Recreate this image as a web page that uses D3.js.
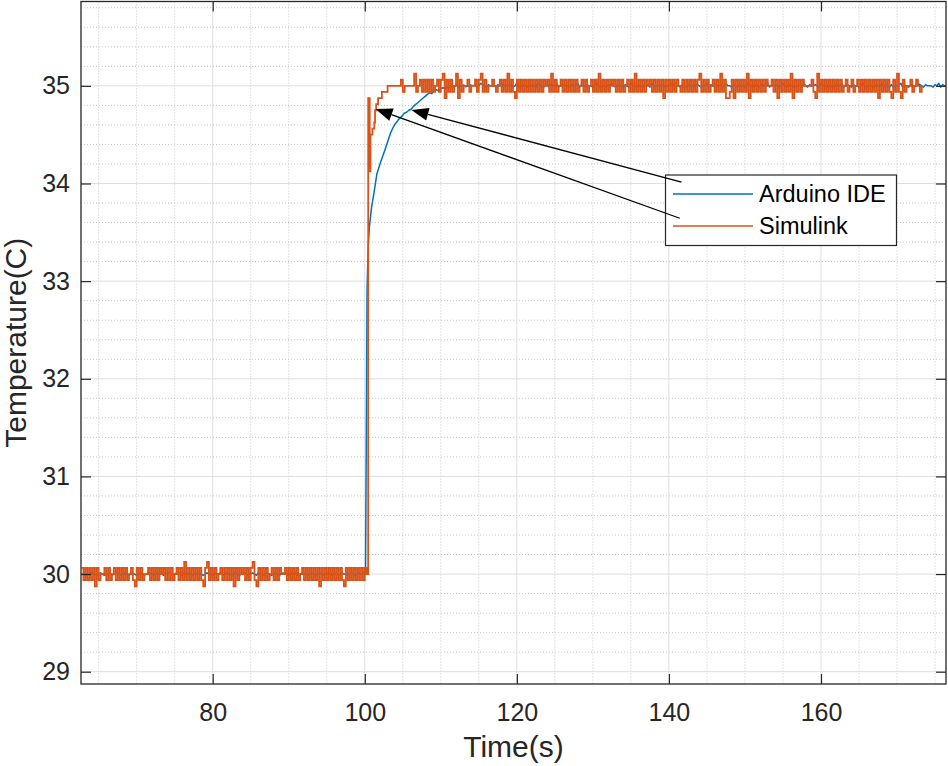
<!DOCTYPE html>
<html><head><meta charset="utf-8">
<script src="https://cdn.jsdelivr.net/npm/d3@7"></script>
<style>
body{margin:0;background:#fff}
text{font-family:"Liberation Sans",Arial,Helvetica,sans-serif}
</style>
</head><body>
<svg id="chart" width="948" height="766"></svg>
<script>
// ---------------- data ----------------
const xTicks = [80, 100, 120, 140, 160];
const yTicks = [29, 30, 31, 32, 33, 34, 35];
const xDomain = [62.68, 176.44];
const yDomain = [28.874, 35.864];
const seriesNames = ["Arduino IDE", "Simulink"];
const seriesColors = ["#0072BD", "#D95319"];
const sampleStep = 0.25;

// Arduino IDE: small jitter around 30 before the step (codes 0..4 -> -2..+2 steps of 0.013)
const arduinoPreStart = 62.75;
const arduinoPre =
  "2231232212321223122321322132212321232213223122321232" +
  "2132231222321232213223213221232122312232132213221" +
  "232123221322312322123212231223213221322123212322" ;
const arduinoStepT = [100.1, 100.2, 100.3, 100.45, 100.6, 100.9, 101.1, 101.6, 102.0, 102.5, 102.8, 103.1, 103.4, 103.7, 104.0, 104.3, 104.6, 104.9, 105.2, 105.5, 105.8, 106.1, 106.4, 106.7, 107.0, 107.3, 107.6, 107.9, 108.2, 108.5, 108.8, 109.1, 109.4, 109.7, 110.0, 110.3, 110.6, 110.9, 111.2, 111.5, 111.8, 112.1, 112.4, 112.7, 113.0, 113.3, 113.6, 113.9];
const arduinoStepV = [30.0, 31.4, 32.9, 33.35, 33.55, 33.76, 33.85, 34.1, 34.2, 34.31, 34.38, 34.45, 34.52, 34.57, 34.61, 34.64, 34.67, 34.69, 34.72, 34.73, 34.75, 34.76, 34.79, 34.81, 34.83, 34.85, 34.87, 34.89, 34.91, 34.93, 34.92, 34.95, 34.96, 34.95, 34.97, 34.98, 34.97, 34.99, 34.98, 35.0, 34.99, 35.01, 34.99, 35.0, 35.01, 34.99, 35.0, 35.01];
const arduinoPostStart = 114.25;
const arduinoPost =
  "23124321322213241322312421322132214321231322412322" +
  "21322413213221342122132421322132142213122231421322" +
  "31223412213213221432122413221323142213213221432132" +
  "21322413223124213221223142132232142213121322412321" +
  "32213421222132241321312234122123124321322213241322";

// Simulink: quantised in 1/16 degree steps ('+' / '-' = one step, 'u' / 'd' = two steps, '0' = on level)
const simulinkPreStart = 62.75;
const simulinkPre =
  "+-+-+-+d+-" + "00+-+-0+-+" + "-+-+-0+-d+" + "-+-00+-+-+" + "-+0+-+-+-0" +
  "+-+-u-+-+-" + "+-+-d+u-+-" + "+-0+-+-+-+" + "d+-+0+-+-+" + "u-d+-+-+-0" +
  "+-+-+00+-+" + "-+-+-0+-+-" + "+-+-+d+-+-" + "+-+-+-+-d+" + "-+-+-+-+-+" + "0";
const simulinkStepT = [100.4, 100.45, 100.6, 100.65, 100.72, 100.75, 101.0, 101.25, 101.35, 101.5, 101.75, 102.2, 102.25, 102.95, 103.0];
const simulinkStepV = [30.0, 34.875, 34.875, 34.125, 34.125, 34.5, 34.5625, 34.625, 34.75, 34.8125, 34.875, 34.875, 34.9375, 34.9375, 35.0];
const simulinkPostStart = 103.25;
const simulinkPost =
  "000000+-00" + "000u-0+-+-" + "+-+-0+-+ud" + "+-+-0ud+-0" + "0+-00+-+u-" +
  "+-00+0-0+-" + "+-u-+-d+-+" + "-+-+-+-+-+" + "-+0+-u-+-0" + "+-+-+-+-+-" +
  "0+-+-0+-+-" + "u-+-+-+0+-" + "+-+-0+-+-u" + "-+-+-+0+-+" + "-+-+d+-+-+" +
  "-+0-+-+-+-" + "+-+u-+-+-0" + "+-+-u-+dd-" + "+d+-+-+-ud" + "+-+-+-+-+0" +
  "0+-+d+-+-+" + "-ud+-+-+00" + "00+-du-+-+" + "-+-+-+-+-0" + "+-0+-0+-+-" +
  "+-+-+-+d+-" + "+-+-d+-u-d" + "+-00+-0+0-" + "0";

// annotation arrows (data coordinates): tail near legend, tip on the curves
const arrowTailX = [141.65, 141.43];
const arrowTailY = [34.013, 33.644];
const arrowTipX = [106.14, 101.41];
const arrowTipY = [34.754, 34.764];

// ---------------- build series ----------------
const jitterCode = c => (+c - 2) * 0.013;
const quantCode = c => ({"0": 0, "+": 1, "-": -1, "u": 2, "d": -2}[c]) * 0.0625;
function decode(str, t0, base, f) {
  return Array.from(str).map((c, i) => [t0 + i * sampleStep, base + f(c)]);
}
const arduino = decode(arduinoPre, arduinoPreStart, 30, jitterCode)
  .concat(arduinoStepT.map((t, i) => [t, arduinoStepV[i]]))
  .concat(decode(arduinoPost, arduinoPostStart, 35, jitterCode));
const simulink = decode(simulinkPre, simulinkPreStart, 30, quantCode)
  .concat(simulinkStepT.map((t, i) => [t, simulinkStepV[i]]))
  .concat(decode(simulinkPost, simulinkPostStart, 35, quantCode));

// ---------------- drawing ----------------
const L = 81, R = 946, T = 1.5, B = 684;
const svg = d3.select("#chart");
const x = d3.scaleLinear().domain(xDomain).range([L, R]);
const y = d3.scaleLinear().domain(yDomain).range([B, T]);
const axisCol = "#262626";

// minor grid
const xMinor = d3.range(65, 177, 5).filter(v => v % 20 !== 0 && v > xDomain[0] && v < xDomain[1]);
const yMinor = d3.range(0, 36).map(i => +(28.8 + i * 0.2).toFixed(1))
  .filter(v => v > yDomain[0] && v < yDomain[1] && Math.abs(v - Math.round(v)) > 1e-6);
const g = svg.append("g");
g.selectAll(".xm").data(xMinor).join("line")
  .attr("x1", d => x(d)).attr("x2", d => x(d)).attr("y1", T).attr("y2", B)
  .attr("stroke", "#c4c4c4").attr("stroke-width", 1).attr("stroke-dasharray", "1,2");
g.selectAll(".ym").data(yMinor).join("line")
  .attr("x1", L).attr("x2", R).attr("y1", d => y(d)).attr("y2", d => y(d))
  .attr("stroke", "#c4c4c4").attr("stroke-width", 1).attr("stroke-dasharray", "1,2");
// major grid
g.selectAll(".xM").data(xTicks).join("line")
  .attr("x1", d => x(d)).attr("x2", d => x(d)).attr("y1", T).attr("y2", B)
  .attr("stroke", "#dedede").attr("stroke-width", 1);
g.selectAll(".yM").data(yTicks).join("line")
  .attr("x1", L).attr("x2", R).attr("y1", d => y(d)).attr("y2", d => y(d))
  .attr("stroke", "#dedede").attr("stroke-width", 1);

// data lines
svg.append("clipPath").attr("id", "clip").append("rect")
  .attr("x", L).attr("y", T).attr("width", R - L).attr("height", B - T);
const dataG = svg.append("g").attr("clip-path", "url(#clip)");
dataG.append("path").datum(arduino)
  .attr("d", d3.line().x(d => x(d[0])).y(d => y(d[1])))
  .attr("fill", "none").attr("stroke", seriesColors[0]).attr("stroke-width", 1.5)
  .attr("stroke-linejoin", "round");
dataG.append("path").datum(simulink)
  .attr("d", d3.line().x(d => x(d[0])).y(d => y(d[1])).curve(d3.curveStepAfter))
  .attr("fill", "none").attr("stroke", seriesColors[1]).attr("stroke-width", 1.8);

// axes
function styleAxis(sel) {
  sel.select(".domain").remove();
  sel.selectAll(".tick line").attr("stroke", axisCol).attr("stroke-width", 1.2);
  sel.selectAll(".tick text").attr("fill", axisCol).style("font-size", "25px")
    .style("font-family", '"Liberation Sans",Arial,Helvetica,sans-serif');
}
const fmt = d3.format("d");
svg.append("g").attr("transform", `translate(0,${B})`)
  .call(d3.axisBottom(x).tickValues(xTicks).tickFormat(fmt).tickSizeInner(-10).tickSizeOuter(0).tickPadding(19))
  .call(styleAxis);
svg.append("g").attr("transform", `translate(0,${T})`)
  .call(d3.axisTop(x).tickValues(xTicks).tickSizeInner(-10).tickSizeOuter(0).tickFormat(""))
  .call(styleAxis);
svg.append("g").attr("transform", `translate(${L},0)`)
  .call(d3.axisLeft(y).tickValues(yTicks).tickFormat(fmt).tickSizeInner(-10).tickSizeOuter(0).tickPadding(11))
  .call(styleAxis);
svg.append("g").attr("transform", `translate(${R},0)`)
  .call(d3.axisRight(y).tickValues(yTicks).tickSizeInner(-10).tickSizeOuter(0).tickFormat(""))
  .call(styleAxis);
svg.append("rect").attr("x", L).attr("y", T).attr("width", R - L).attr("height", B - T)
  .attr("fill", "none").attr("stroke", axisCol).attr("stroke-width", 1.3);

// axis labels
svg.append("text").attr("x", (L + R) / 2).attr("y", 757).attr("text-anchor", "middle")
  .attr("fill", axisCol).style("font-size", "30px").text("Time(s)");
svg.append("text").attr("transform", `translate(26,${(T + B) / 2}) rotate(-90)`)
  .attr("text-anchor", "middle").attr("fill", axisCol).style("font-size", "30px").text("Temperature(C)");

// legend
const lg = svg.append("g");
lg.append("rect").attr("x", 665.5).attr("y", 175).attr("width", 231).attr("height", 70.5)
  .attr("fill", "#fff").attr("stroke", axisCol).attr("stroke-width", 1.2);
seriesNames.forEach((name, i) => {
  const ly = 194 + i * 32;
  lg.append("line").attr("x1", 673).attr("x2", 753).attr("y1", ly).attr("y2", ly)
    .attr("stroke", seriesColors[i]).attr("stroke-width", 1.5);
  lg.append("text").attr("x", 759).attr("y", ly + 8.3).attr("fill", "#000")
    .style("font-size", "23.5px").text(name);
});

// arrows
const ag = svg.append("g");
arrowTipX.forEach((tx, i) => {
  const px = x(tx), py = y(arrowTipY[i]);
  const qx = x(arrowTailX[i]), qy = y(arrowTailY[i]);
  const len = Math.hypot(qx - px, qy - py);
  const ux = (qx - px) / len, uy = (qy - py) / len;
  const hl = 17, hw = 6.5;
  const bx = px + ux * hl, by = py + uy * hl;
  ag.append("line").attr("x1", qx).attr("y1", qy).attr("x2", bx).attr("y2", by)
    .attr("stroke", "#000").attr("stroke-width", 1.3);
  ag.append("polygon")
    .attr("points", [[px, py], [bx - uy * hw, by + ux * hw], [bx + uy * hw, by - ux * hw]].map(p => p.join(",")).join(" "))
    .attr("fill", "#000");
});
</script>
</body></html>
